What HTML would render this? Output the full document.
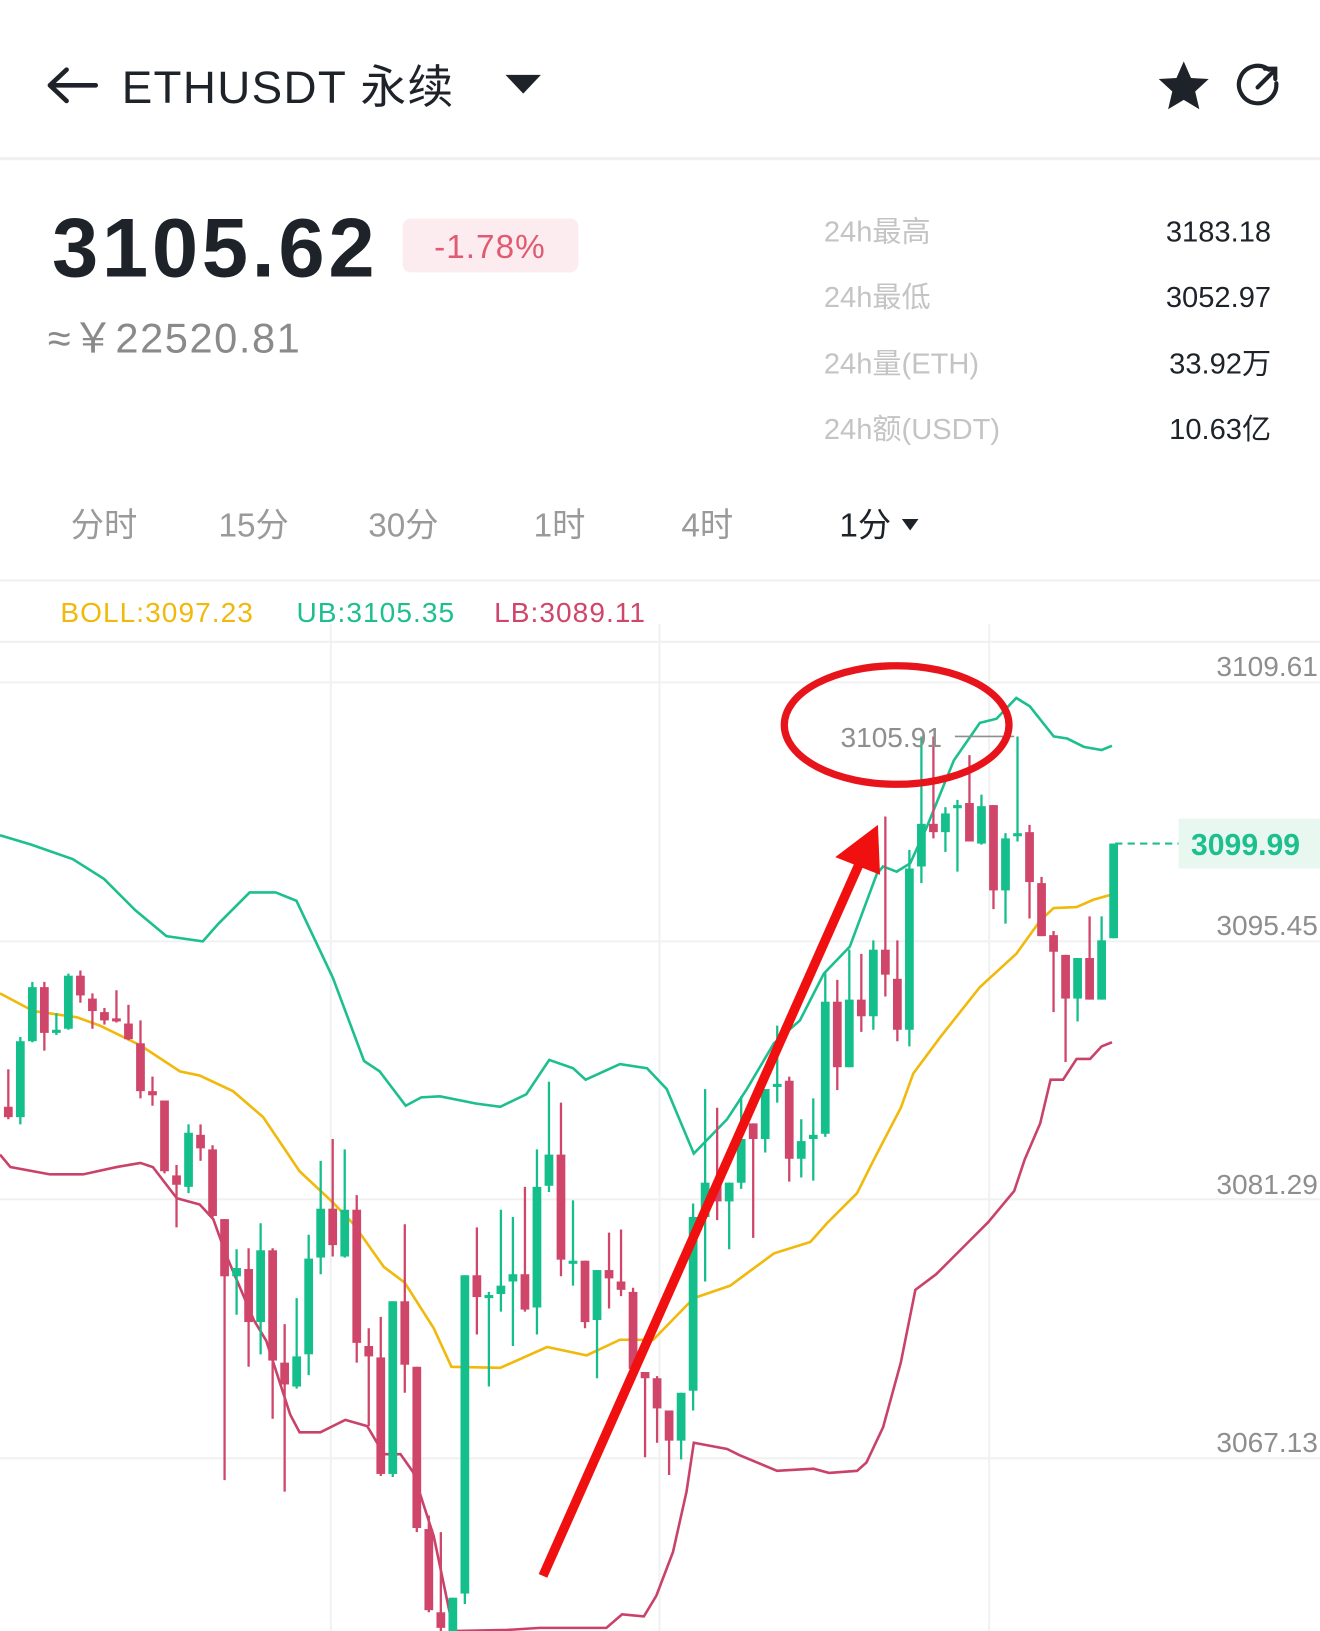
<!DOCTYPE html>
<html><head><meta charset="utf-8"><style>
html,body{margin:0;padding:0;background:#fff;}
svg{display:block;}
text{font-family:"Liberation Sans","Noto Sans CJK SC",sans-serif;}
</style></head><body>
<svg id="s" width="1320" height="1631" viewBox="0 0 1269 1568" preserveAspectRatio="none" xmlns="http://www.w3.org/2000/svg">
<rect width="1269" height="1568" fill="#fff"/>
<path d="M48 82 H92 M48 82 L64 67 M48 82 L64 97" stroke="#1e2329" stroke-width="4.5" fill="none" stroke-linecap="round"/>
<text x="117" y="99" font-size="44" fill="#1e2329" letter-spacing="1.3">ETHUSDT 永续</text>
<path d="M486 72 H520 L503 90 Z" fill="#1e2329"/>
<path d="M1138 59 L1145 75 L1162 76 L1149 88 L1153 105 L1138 96 L1123 105 L1127 88 L1114 76 L1131 75 Z" fill="#1e2329"/>
<path d="M1220 67 A18 18 0 1 0 1227 80" stroke="#1e2329" stroke-width="4" fill="none" stroke-linecap="round"/>
<path d="M1209 84 L1224 69 M1216 66 H1226 V76" stroke="#1e2329" stroke-width="4" fill="none" stroke-linecap="round"/>
<rect x="0" y="151" width="1269" height="3" fill="#eef0f2"/>
<text x="50" y="266" font-size="80" fill="#1e2329" font-weight="bold" letter-spacing="3.5">3105.62</text>
<rect x="387" y="210" width="169" height="52" rx="8" fill="#fdecef"/>
<text x="471" y="248" font-size="32" fill="#e05a72" text-anchor="middle" letter-spacing="1">-1.78%</text>
<text x="46" y="339" font-size="40" fill="#8a8a8a" letter-spacing="1.5">≈￥22520.81</text>
<g font-size="28" fill="#c4c4c4">
<text x="792" y="232">24h最高</text><text x="792" y="295">24h最低</text>
<text x="792" y="359">24h量(ETH)</text><text x="792" y="422">24h额(USDT)</text>
</g>
<g font-size="28" fill="#1e2329" text-anchor="end">
<text x="1222" y="232">3183.18</text><text x="1222" y="295">3052.97</text>
<text x="1222" y="359">33.92万</text><text x="1222" y="422">10.63亿</text>
</g>
<g font-size="32" fill="#9a9a9a">
<text x="68" y="516">分时</text><text x="210" y="516">15分</text><text x="354" y="516">30分</text>
<text x="513" y="516">1时</text><text x="655" y="516">4时</text>
<text x="807" y="516" fill="#1e2329">1分</text>
</g>
<path d="M867 499 H883 L875 510 Z" fill="#1e2329"/>
<rect x="0" y="557" width="1269" height="2" fill="#eef0f2"/>
<g font-size="27" letter-spacing="1">
<text x="58" y="598" fill="#f0b90b">BOLL:3097.23</text>
<text x="285" y="598" fill="#1dbf8e">UB:3105.35</text>
<text x="475" y="598" fill="#d0466a">LB:3089.11</text>
</g>
<g stroke="#f0f1f2" stroke-width="2">
<line x1="0" y1="617" x2="1269" y2="617"/>
<line x1="0" y1="656" x2="1269" y2="656"/><line x1="0" y1="905" x2="1269" y2="905"/>
<line x1="0" y1="1153" x2="1269" y2="1153"/><line x1="0" y1="1402" x2="1269" y2="1402"/>
<line x1="318" y1="600" x2="318" y2="1568"/><line x1="634" y1="600" x2="634" y2="1568"/><line x1="951" y1="600" x2="951" y2="1568"/>
</g>
<g font-size="27" fill="#8e8e8e" text-anchor="end">
<text x="1267" y="650">3109.61</text><text x="1267" y="899">3095.45</text>
<text x="1267" y="1148">3081.29</text><text x="1267" y="1396">3067.13</text>
</g>
<polyline fill="none" stroke="#1dbf8e" stroke-width="2.5" points="0,803 30,812 70,826 100,845 130,875 160,900 195,905 210,888 240,858 265,858 285,866 320,940 350,1020 365,1030 390,1063 405,1055 423,1054 458,1061 481,1064 506,1052 528,1019 551,1027 563,1038 596,1023 622,1027 641,1047 667,1109 699,1076 718,1047 744,1003 769,981 792,936 817,910 843,840 849,833 862,838 875,830 891,795 917,731 942,695 958,691 977,671 990,679 1013,708 1026,710 1042,718 1059,721 1069,717"/>
<polyline fill="none" stroke="#f0b90b" stroke-width="2.5" points="0,955 32,972 74,978 96,986 135,1005 173,1030 192,1034 224,1049 253,1074 288,1126 320,1156 340,1177 369,1218 389,1233 417,1277 434,1314 481,1315 526,1295 564,1303 596,1288 628,1288 667,1248 702,1236 744,1205 779,1194 795,1176 824,1147 840,1115 866,1065 878,1032 904,997 942,949 977,917 1000,885 1013,873 1035,872 1051,865 1069,860"/>
<polyline fill="none" stroke="#c9426a" stroke-width="2.5" points="0,1110 10,1122 48,1129 80,1129 112,1122 135,1118 147,1122 170,1152 192,1158 205,1172 218,1208 244,1269 256,1289 279,1360 288,1377 308,1377 332,1365 353,1371 369,1398 385,1398 397,1415 417,1477 436,1568 487,1567 519,1565 583,1565 598,1552 619,1554 631,1534 647,1492 660,1434 667,1387 699,1393 711,1399 747,1414 782,1412 797,1416 824,1414 833,1406 849,1372 866,1310 880,1240 900,1225 930,1195 950,1175 975,1145 985,1115 1000,1080 1010,1038 1022,1038 1035,1018 1048,1018 1059,1006 1069,1002"/>
<g id="c"></g>
<line x1="1072" y1="811" x2="1133" y2="811" stroke="#1dbf8e" stroke-width="2" stroke-dasharray="7,5"/>
<rect x="1133" y="787" width="136" height="48" fill="#e8f8f1"/>
<text x="1145" y="822" font-size="29" font-weight="bold" fill="#1dbf8e">3099.99</text>
<text x="808" y="718" font-size="27" fill="#8e8e8e">3105.91</text>
<line x1="918" y1="708" x2="975" y2="708" stroke="#8e8e8e" stroke-width="1.5"/>
<ellipse cx="862" cy="697" rx="108" ry="57" fill="none" stroke="#e8141c" stroke-width="7"/>
<line x1="522" y1="1515" x2="828" y2="826" stroke="#f01010" stroke-width="9"/>
<path d="M844 793 L803 824 L846 841 Z" fill="#f01010"/>
</svg>
<script>
var d=[
"r1064,1074,1028,1076","g1001,1074,997,1081","g949,1001,944,1002","r949,993,944,1010","g990,993,974,995","g938,989,936,990","r938,957,933,964","r960,972,955,989","r973,981,969,985","r979,982,952,983",
"r984,999,966,1000","r1003,1049,981,1056","r1049,1053,1035,1063","r1058,1126,1058,1128","r1130,1139,1120,1180","g1089,1141,1081,1147","r1091,1104,1081,1116","r1105,1169,1101,1170","r1172,1227,1172,1423","g1219,1227,1201,1264",
"r1220,1271,1200,1314","g1202,1271,1176,1302","r1202,1308,1200,1364","r1310,1331,1273,1434","g1304,1333,1248,1335","g1210,1302,1187,1322","g1162,1209,1116,1225","r1162,1197,1095,1208","g1163,1208,1105,1209","r1163,1291,1149,1310",
"r1294,1304,1277,1371","r1305,1417,1266,1419","g1251,1417,1251,1420","r1251,1312,1177,1339","r1314,1469,1314,1473","r1470,1548,1457,1550","r1550,1565,1473,1568","g1536,1568,1536,1568","g1226,1532,1226,1542","r1226,1247,1180,1283",
"g1245,1248,1242,1333","g1236,1244,1163,1261","g1225,1232,1170,1294","r1225,1259,1141,1261","g1141,1257,1105,1283","g1110,1140,1040,1146","r1110,1211,1060,1227","g1212,1214,1154,1236","r1212,1271,1212,1277","g1221,1269,1221,1325",
"r1221,1229,1185,1258","r1232,1240,1182,1246","r1242,1316,1238,1318","r1319,1325,1319,1401","r1325,1354,1323,1387","r1356,1385,1356,1418","g1339,1385,1339,1403","g1170,1337,1157,1356","g1137,1170,1047,1232","r1137,1155,1065,1173",
"g1137,1155,1137,1201","g1095,1137,1054,1143","r1080,1095,1080,1190","g1047,1095,1047,1108","g1042,1044,986,1060","r1039,1114,1035,1136","g1097,1114,1076,1132","g1091,1095,1056,1135","g963,1090,934,1093","r963,1026,942,1048",
"g961,1026,913,1026","r961,977,917,992","g913,977,904,990","r913,937,785,958","r941,990,904,1001","g835,990,817,1006","g792,833,708,849","r792,800,708,806","g782,800,776,819","g774,777,769,838",
"r772,809,726,809","g775,811,764,812","r774,856,774,874","g806,856,801,888","g801,804,708,809","r800,848,793,883","r849,900,843,900","r899,915,895,973","r918,960,918,1021","g921,960,921,982",
"r921,961,881,961","g904,961,881,961","g811,902,811,902"];
var h="";
for(var i=0;i<d.length;i++){var c=d[i][0]=="g"?"#14bf8c":"#d0466a";var v=d[i].slice(1).split(",").map(Number);var x=8+11.55*i;
h+='<line x1="'+x+'" x2="'+x+'" y1="'+v[2]+'" y2="'+v[3]+'" stroke="'+c+'" stroke-width="2.2"/>';
var bh=Math.max(3,v[1]-v[0]);h+='<rect x="'+(x-4.2)+'" y="'+v[0]+'" width="8.4" height="'+bh+'" fill="'+c+'"/>';}
document.getElementById("c").innerHTML=h;
</script>
</body></html>
